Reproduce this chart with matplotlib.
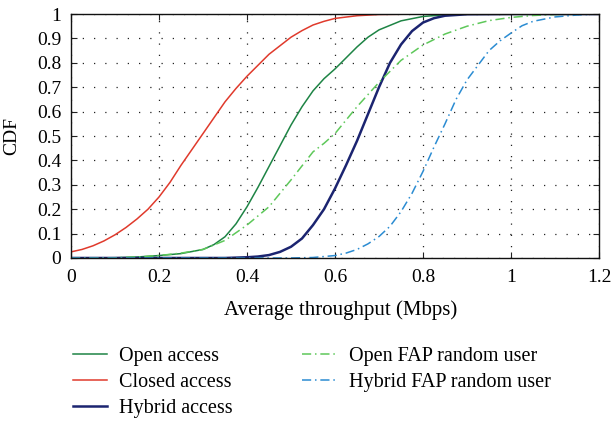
import matplotlib
matplotlib.use('Agg')
import matplotlib.pyplot as plt

# CDF curves (x in Mbps)
closed_x = [0.0, 0.025, 0.05, 0.075, 0.1, 0.125, 0.15, 0.175, 0.2, 0.225, 0.25, 0.275, 0.3, 0.325, 0.35,
            0.375, 0.4, 0.425, 0.45, 0.475, 0.5, 0.525, 0.55, 0.575, 0.6, 0.65, 0.7, 0.8, 1.2]
closed_y = [0.025, 0.035, 0.05, 0.07, 0.095, 0.125, 0.16, 0.2, 0.25, 0.31, 0.38, 0.445, 0.51, 0.575, 0.64,
            0.695, 0.745, 0.79, 0.835, 0.87, 0.905, 0.932, 0.955, 0.97, 0.982, 0.993, 0.998, 1.0, 1.0]

open_x = [0.0, 0.1, 0.15, 0.2, 0.25, 0.3, 0.325, 0.35, 0.375, 0.4, 0.425, 0.45, 0.475, 0.5, 0.525,
          0.55, 0.575, 0.6, 0.625, 0.65, 0.675, 0.7, 0.75, 0.8, 0.85, 0.9, 1.2]
open_y = [0.0, 0.001, 0.004, 0.01, 0.018, 0.035, 0.055, 0.087, 0.14, 0.21, 0.29, 0.375, 0.46, 0.545, 0.62,
          0.685, 0.735, 0.775, 0.82, 0.865, 0.905, 0.935, 0.972, 0.99, 0.997, 1.0, 1.0]

hybrid_x = [0.0, 0.35, 0.4, 0.425, 0.45, 0.475, 0.5, 0.525, 0.55, 0.575, 0.6, 0.625, 0.65, 0.675, 0.7,
            0.725, 0.75, 0.775, 0.8, 0.825, 0.85, 0.9, 1.0, 1.2]
hybrid_y = [0.0, 0.0, 0.003, 0.006, 0.012, 0.025, 0.046, 0.08, 0.135, 0.2, 0.285, 0.38, 0.48, 0.59, 0.70,
            0.80, 0.875, 0.93, 0.965, 0.983, 0.993, 0.999, 1.0, 1.0]

open_fap_x = [0.0, 0.1, 0.15, 0.2, 0.25, 0.3, 0.35, 0.4, 0.45, 0.5, 0.55, 0.575, 0.6, 0.625, 0.65, 0.675,
              0.7, 0.75, 0.8, 0.85, 0.9, 0.95, 1.0, 1.05, 1.1, 1.2]
open_fap_y = [0.0, 0.001, 0.004, 0.01, 0.02, 0.035, 0.072, 0.135, 0.21, 0.32, 0.435, 0.47, 0.51, 0.565, 0.62, 0.67,
              0.72, 0.81, 0.873, 0.918, 0.95, 0.973, 0.986, 0.994, 0.998, 1.0]

hybrid_fap_x = [0.0, 0.5, 0.55, 0.6, 0.625, 0.65, 0.675, 0.7, 0.725, 0.75, 0.775, 0.8, 0.825, 0.85, 0.875,
                0.9, 0.925, 0.95, 0.975, 1.0, 1.025, 1.05, 1.1, 1.15, 1.2]
hybrid_fap_y = [0.0, 0.0, 0.002, 0.01, 0.02, 0.035, 0.058, 0.088, 0.13, 0.19, 0.265, 0.355, 0.455, 0.55, 0.65,
                0.73, 0.79, 0.85, 0.89, 0.922, 0.952, 0.97, 0.988, 0.996, 1.0]

x_ticks = [0, 0.2, 0.4, 0.6, 0.8, 1.0, 1.2]
x_labels = ['0', '0.2', '0.4', '0.6', '0.8', '1', '1.2']
y_ticks = [0, 0.1, 0.2, 0.3, 0.4, 0.5, 0.6, 0.7, 0.8, 0.9, 1.0]
y_labels = ['0', '0.1', '0.2', '0.3', '0.4', '0.5', '0.6', '0.7', '0.8', '0.9', '1']

plt.rcParams['font.family'] = ['Liberation Serif', 'DejaVu Serif']

fig = plt.figure(figsize=(6.11, 4.21), dpi=100)
ax = fig.add_axes([0.1162, 0.3872, 0.8642, 0.5795])

dashdot = (0, (6, 2.5, 1, 2.5))
ax.plot(open_x, open_y, color='#1e8445', lw=1.1, label='Open access')
ax.plot(closed_x, closed_y, color='#e03a2c', lw=1.1, label='Closed access')
ax.plot(hybrid_x, hybrid_y, color='#1b2470', lw=1.8, label='Hybrid access')
ax.plot(open_fap_x, open_fap_y, color='#5ec85a', lw=1.1, ls=dashdot, label='Open FAP random user')
ax.plot(hybrid_fap_x, hybrid_fap_y, color='#2b8cd2', lw=1.1, ls=dashdot, label='Hybrid FAP random user')

ax.set_xlim(0, 1.2)
ax.set_ylim(0, 1)
ax.set_xticks(x_ticks)
ax.set_xticklabels(x_labels)
ax.set_yticks(y_ticks)
ax.set_yticklabels(y_labels)
ax.tick_params(direction='in', top=True, right=True, labelsize=14, length=4, color='#222')
ax.tick_params(axis='x', pad=8)
ax.tick_params(axis='y', pad=7)
ax.grid(True, color='#222', linestyle=(0, (1, 8)), linewidth=0.9)
for s in ax.spines.values():
    s.set_linewidth(1.0)
    s.set_color('#111')

ax.set_xlabel('Average throughput (Mbps)', fontsize=15)
ax.xaxis.set_label_coords(0.51, -0.175)
ax.set_ylabel('CDF', fontsize=14, labelpad=12)

fig.legend(loc='upper left', bbox_to_anchor=(73 / 611, 1 - 347 / 421), ncol=2, frameon=False,
           fontsize=14.5, handlelength=1.7, columnspacing=3.45, labelspacing=0.33,
           handletextpad=0.6, borderpad=0, borderaxespad=0)

fig.savefig('out.png', dpi=100)
